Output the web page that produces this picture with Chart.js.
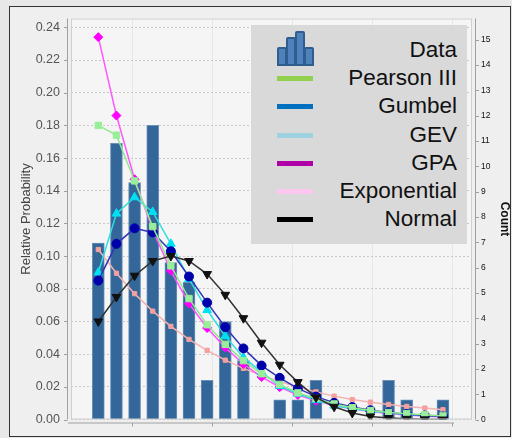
<!DOCTYPE html>
<html>
<head>
<meta charset="utf-8">
<script src="https://cdn.jsdelivr.net/npm/chart.js@4.4.1/dist/chart.umd.min.js"></script>
<style>
  html, body { margin: 0; padding: 0; background: #e8e8e8; overflow: hidden; }
  #wrap { position: relative; width: 512px; height: 438px; }
  #legend {
    position: absolute; left: 251px; top: 25px; width: 216px; height: 219px;
    background: #d9d9d9; color: #111;
    font-family: "Liberation Sans", Arial, sans-serif; font-size: 22.5px;
  }
  .row { position: absolute; left: 0; width: 206px; height: 28px; line-height: 28px; text-align: right; }
  .swatch { position: absolute; left: 26px; top: 12px; width: 36px; height: 5px; }
  .icon { position: absolute; left: 26px; top: -6px; width: 38px; height: 36px; }
  .icon div {
    position: absolute; bottom: 0; width: 6px;
    background: #4f81bd; border: 2px solid #2e5d8e; border-radius: 2px 2px 0 0;
  }
</style>
</head>
<body>
<div id="wrap">
  <canvas id="chart" width="512" height="438"></canvas>
  <div id="legend"></div>
</div>
<script>
// histogram bins (bin number) and the relative frequency of each bin
const bins = [1, 2, 3, 4, 5, 6, 7, 8, 9, 10, 11, 12, 13, 14, 15, 16, 17, 18, 19, 20];
const dataProb = [0.108, 0.169, 0.145, 0.180, 0.096, 0.084, 0.024, 0.060, 0.036, 0,
                  0.012, 0.012, 0.024, 0, 0, 0, 0.024, 0.012, 0, 0.012];

// fitted distributions, evaluated at the bin centres
const pearson3 = [0.180, 0.174, 0.146, 0.118, 0.094, 0.074, 0.058, 0.046, 0.036, 0.028,
                  0.0215, 0.0163, 0.0129, 0.0095, 0.0072, 0.0055, 0.0043, 0.0035, 0.0029, 0.0022];
const gumbel = [0.085, 0.1075, 0.117, 0.1145, 0.103, 0.0875, 0.0715, 0.0565, 0.0435, 0.033,
                0.0255, 0.019, 0.014, 0.0102, 0.0076, 0.0057, 0.0043, 0.0032, 0.0024, 0.0018];
const gev = [0.090, 0.126, 0.136, 0.127, 0.1075, 0.086, 0.067, 0.051, 0.038, 0.029,
             0.0205, 0.0158, 0.0119, 0.0085, 0.0065, 0.005, 0.0039, 0.003, 0.0023, 0.0018];
const gpa = [0.234, 0.186, 0.147, 0.116, 0.091, 0.071, 0.056, 0.044, 0.034, 0.026,
             0.0198, 0.015, 0.0114, 0.0086, 0.0065, 0.0049, 0.0037, 0.0028, 0.0021, 0.0016];
const exponential = [0.104, 0.0895, 0.077, 0.0663, 0.057, 0.049, 0.0423, 0.0363, 0.0313, 0.027,
                     0.0232, 0.0198, 0.0169, 0.0143, 0.0122, 0.0106, 0.0092, 0.008, 0.007, 0.006];
const normal = [0.060, 0.075, 0.088, 0.097, 0.100, 0.097, 0.089, 0.0763, 0.062, 0.047,
                0.0335, 0.0229, 0.0135, 0.0078, 0.004, 0.0019, 0.0009, 0.0004, 0.0001, 0];

// axis ticks
const probTicks = [0, 0.02, 0.04, 0.06, 0.08, 0.10, 0.12, 0.14, 0.16, 0.18, 0.20, 0.22, 0.24];
const countTicks = [0, 1, 2, 3, 4, 5, 6, 7, 8, 9, 10, 11, 12, 13, 14, 15];
const xTicks = [2.87, 7.28, 11.7, 16.1, 20.5];

const legendNames = ['Data', 'Pearson III', 'Gumbel', 'GEV', 'GPA', 'Exponential', 'Normal'];
const legendColors = ['#4f81bd', '#92d050', '#0070c0', '#9dd3e0', '#b000a8', '#ffc6f0', '#000000'];

const FONT = '"Liberation Sans", Arial, sans-serif';

const xy = vals => vals.map((v, i) => ({ x: bins[i], y: v }));

function lineSet(label, vals, color, pointColor, style, radius, order, rotation) {
    return {
        type: 'line',
        label: label,
        data: xy(vals),
        borderColor: color,
        borderWidth: 1.5,
        tension: 0,
        fill: false,
        pointStyle: style,
        pointRadius: radius,
        pointRotation: rotation || 0,
        pointBackgroundColor: pointColor,
        pointBorderColor: pointColor,
        pointBorderWidth: 1,
        order: order
    };
}

// frame, plot background and the offset axis lines
const framePlugin = {
    id: 'frame',
    beforeDraw(chart) {
        const { ctx, chartArea: a } = chart;
        ctx.save();
        ctx.fillStyle = '#e8e8e8';
        ctx.fillRect(0, 0, chart.width, chart.height);
        ctx.fillStyle = '#efefef';
        ctx.fillRect(9.5, 6.5, 501, 430);
        ctx.strokeStyle = '#333';
        ctx.lineWidth = 1;
        ctx.strokeRect(9.5, 6.5, 501, 430);
        ctx.fillStyle = '#f5f5f5';
        ctx.fillRect(a.left, a.top, a.right - a.left, a.bottom - a.top);
        ctx.restore();
    },
    afterDraw(chart) {
        const { ctx, chartArea: a, scales } = chart;
        ctx.save();
        ctx.lineWidth = 1;
        ctx.strokeStyle = '#cfcfcf';
        ctx.strokeRect(a.left + 0.5, a.top + 0.5, a.right - a.left - 1, a.bottom - a.top - 1);
        ctx.strokeStyle = '#a0a0a0';
        ctx.beginPath();
        // left axis
        ctx.moveTo(a.left - 3.5, a.top);
        ctx.lineTo(a.left - 3.5, a.bottom);
        scales.y.ticks.forEach(t => {
            const py = Math.round(scales.y.getPixelForValue(t.value)) + 0.5;
            ctx.moveTo(a.left - 7, py);
            ctx.lineTo(a.left - 3.5, py);
        });
        // right axis
        ctx.moveTo(a.right + 3.5, a.top);
        ctx.lineTo(a.right + 3.5, a.bottom);
        scales.y2.ticks.forEach(t => {
            const py = Math.round(scales.y2.getPixelForValue(t.value)) + 0.5;
            ctx.moveTo(a.right + 3.5, py);
            ctx.lineTo(a.right + 7, py);
        });
        // bottom axis
        ctx.moveTo(a.left - 3, a.bottom + 3.5);
        ctx.lineTo(a.right - 18, a.bottom + 3.5);
        scales.x.ticks.forEach(t => {
            const px = Math.round(scales.x.getPixelForValue(t.value)) + 0.5;
            ctx.moveTo(px, a.bottom + 3.5);
            ctx.lineTo(px, a.bottom + 7);
        });
        ctx.stroke();
        ctx.restore();
    }
};

new Chart(document.getElementById('chart'), {
    type: 'bar',
    data: {
        datasets: [
            {
                type: 'bar',
                label: 'Data',
                data: xy(dataProb),
                backgroundColor: '#336699',
                borderColor: '#6a90b8',
                borderWidth: 1,
                barThickness: 12,
                order: 10
            },
            lineSet('Normal', normal, '#333333', '#111111', 'triangle', 5, 1, 180),
            lineSet('Pearson III', pearson3, '#90e890', '#99ee99', 'rect', 4.5, 2),
            lineSet('Gumbel', gumbel, '#3434b8', '#0000aa', 'circle', 4.5, 3),
            lineSet('GEV', gev, '#30dede', '#00e0f0', 'triangle', 5, 4),
            lineSet('GPA', gpa, '#ff55ff', '#ff00ff', 'rectRot', 4.5, 5),
            lineSet('Exponential', exponential, '#f5b2b2', '#f4a0a0', 'rect', 3, 6)
        ]
    },
    options: {
        responsive: false,
        animation: false,
        layout: { padding: { top: 17, left: 0, right: 0, bottom: 0 } },
        plugins: {
            legend: { display: false },
            tooltip: { enabled: false }
        },
        scales: {
            x: {
                type: 'linear',
                min: -0.505,
                max: 21.6,
                offset: false,
                grid: { offset: false, color: '#e6e6e6', drawTicks: false },
                border: { display: false },
                ticks: { display: false },
                afterBuildTicks: s => { s.ticks = xTicks.map(v => ({ value: v })); },
                afterFit: s => { s.height = 11; }
            },
            y: {
                position: 'left',
                min: 0,
                max: 0.2454,
                grid: { color: '#c9c9c9', drawTicks: false },
                border: { display: false, dash: [2, 2] },
                ticks: {
                    padding: 11,
                    color: '#555',
                    font: { family: FONT, size: 12.5 },
                    callback: v => v.toFixed(2)
                },
                afterBuildTicks: s => { s.ticks = probTicks.map(v => ({ value: v })); },
                afterFit: s => { s.width = 71; },
                title: {
                    display: true,
                    text: 'Relative Probability',
                    color: '#444',
                    font: { family: FONT, size: 13 },
                    padding: { top: 19, bottom: 0 }
                }
            },
            y2: {
                position: 'right',
                min: 0,
                max: 15.83,
                grid: { display: false, drawTicks: false },
                border: { display: false },
                ticks: {
                    padding: 9,
                    color: '#111',
                    font: { family: FONT, size: 8.5 }
                },
                afterBuildTicks: s => { s.ticks = countTicks.map(v => ({ value: v })); },
                afterFit: s => { s.width = 40; },
                title: {
                    display: true,
                    text: 'Count',
                    color: '#111',
                    font: { family: FONT, size: 12, weight: 'bold' },
                    padding: { top: 0, bottom: 0 }
                }
            }
        }
    },
    plugins: [framePlugin]
});

// legend panel
const legendEl = document.getElementById('legend');
legendNames.forEach((name, i) => {
    const row = document.createElement('div');
    row.className = 'row';
    row.style.top = (11 + i * 28.2) + 'px';
    row.textContent = name;
    if (i === 0) {
        const icon = document.createElement('div');
        icon.className = 'icon';
        [17, 27, 33, 17].forEach((h, k) => {
            const b = document.createElement('div');
            b.style.left = (k * 9) + 'px';
            b.style.height = (h - 2) + 'px';
            icon.appendChild(b);
        });
        row.appendChild(icon);
    } else {
        const sw = document.createElement('div');
        sw.className = 'swatch';
        sw.style.background = legendColors[i];
        row.appendChild(sw);
    }
    legendEl.appendChild(row);
});
</script>
</body>
</html>
